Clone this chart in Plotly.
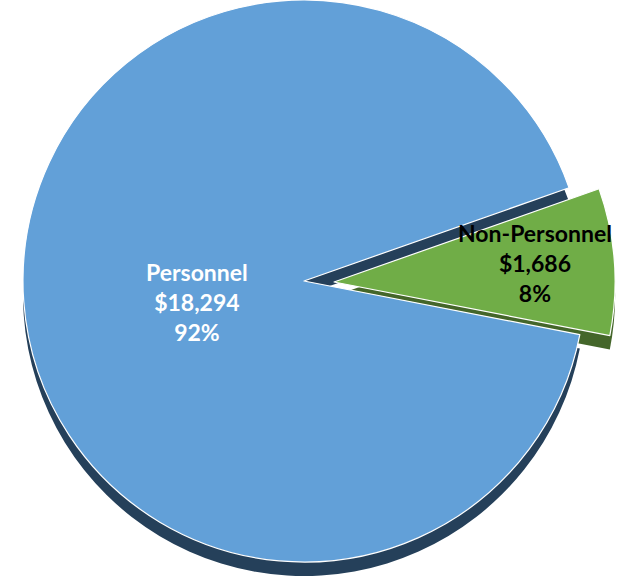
import plotly.graph_objects as go

# Budget split
categories = ["Personnel", "Non-Personnel"]
amounts = [18294, 1686]

W, H = 621, 577
BLUE_TOP = "#62A0D8"
BLUE_SIDE = "#25405A"
GREEN_TOP = "#70AD47"
GREEN_SIDE = "#44662A"
CLEAR = "rgba(0,0,0,0)"

R = 281          # pie radius in px
CX, CY = 304, 281  # centre of the main disc
PULL_DX, PULL_DY = 30, 1  # offset of the exploded wedge
DEPTH = 14       # thickness of the 3D rim


def domain(cx, cy, r):
    x0, x1 = (cx - r) / W, (cx + r) / W
    y0, y1 = 1 - (cy + r) / H, 1 - (cy - r) / H
    clamp = lambda v: min(1.0, max(0.0, v))
    return dict(x=[clamp(x0), clamp(x1)], y=[clamp(y0), clamp(y1)])


def layer(colors, line_widths, dom):
    return go.Pie(
        labels=categories,
        values=amounts,
        sort=False,
        direction="clockwise",
        rotation=101,
        textinfo="none",
        hoverinfo="label+value+percent",
        showlegend=False,
        marker=dict(colors=colors,
                    line=dict(color="white", width=line_widths)),
        domain=dom,
    )


fig = go.Figure()
# rims (drawn first, shifted down to fake depth)
fig.add_trace(layer([BLUE_SIDE, CLEAR], [0, 0], domain(CX, CY + DEPTH, R)))
fig.add_trace(layer([CLEAR, GREEN_SIDE], [0, 0],
                    domain(CX + PULL_DX, CY + PULL_DY + DEPTH, R)))
# top faces
fig.add_trace(layer([BLUE_TOP, CLEAR], [1.2, 0], domain(CX, CY, R)))
fig.add_trace(layer([CLEAR, GREEN_TOP], [0, 1.2],
                    domain(CX + PULL_DX, CY + PULL_DY, R)))

total = sum(amounts)
label_pos = [(197, 302, "white"), (535, 263, "black")]
for name, amt, (lx, ly, col) in zip(categories, amounts, label_pos):
    pct = round(100 * amt / total)
    fig.add_annotation(
        x=lx / W, y=1 - ly / H, xref="paper", yref="paper",
        xanchor="center", yanchor="middle",
        text=f"<b>{name}<br>${amt:,}<br>{pct}%</b>",
        showarrow=False, align="center",
        font=dict(family="Lato", size=23, color=col),
    )

fig.update_layout(
    width=W, height=H,
    margin=dict(l=0, r=0, t=0, b=0),
    paper_bgcolor="white",
    plot_bgcolor="white",
)

fig.write_html("out.html")
